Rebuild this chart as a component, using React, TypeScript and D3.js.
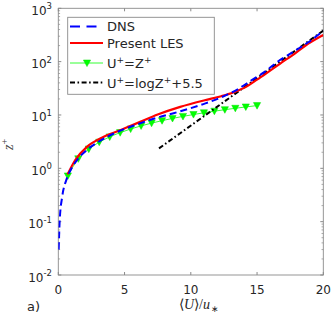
import React from 'react';
import * as d3 from 'd3';

// mean velocity profiles (U+ on x, z+ on y, log)
const dnsU = [0.03, 0.1, 0.3, 0.6, 1.0, 1.5, 2.15, 3.0, 4.2, 5.9, 7.4, 8.7, 9.9, 11.1, 12.4, 13.6, 14.6, 15.6, 16.7, 17.7, 18.9, 20.0];
const dnsZ = [0.03, 0.1, 0.3, 0.6, 1.0, 1.52, 2.2, 3.1, 4.5, 6.6, 8.8, 10.8, 13.2, 16.5, 22, 31, 45, 65, 106, 151, 234, 376];

const lesU = [0.7, 1.28, 2.16, 3.17, 4.67, 6.18, 7.5, 9.2, 11.05, 12.3, 13.3, 14.2, 15.0, 15.8, 16.75, 17.9, 19.0, 20.0];
const lesZ = [0.77, 1.43, 2.53, 3.63, 5.19, 7.43, 10.2, 14.2, 18.9, 22.5, 27, 34, 46, 63, 92, 145, 228, 315];

// U+ = z+ (viscous sublayer), markers
const linU = [0.72, 1.51, 2.3, 3.09, 3.88, 4.67, 5.46, 6.25, 7.04, 7.83, 8.62, 9.41, 10.2, 10.99, 11.78, 12.57, 13.36, 14.15, 15.0];
const linZ = [0.72, 1.51, 2.3, 3.09, 3.88, 4.67, 5.46, 6.25, 7.04, 7.83, 8.62, 9.41, 10.2, 10.99, 11.78, 12.57, 13.36, 14.15, 15.0];

// log law, straight on semilog axes: ends only
const logU = [7.6, 20];
const logZ = [2.36, 382];

const xTicks = [0, 5, 10, 15, 20];
const yExps = [-2, -1, 0, 1, 2, 3];

const W = 332;
const H = 318;
const L = 58.3, R = 323.3, T = 8.3, B = 275;

const axisColor = '#8a8a8a';
const textColor = '#262626';

export default function App() {
  const x = d3.scaleLinear().domain([0, 20]).range([L, R]);
  const y = d3.scaleLog().domain([1e-2, 1e3]).range([B, T]);

  const line = d3.line<[number, number]>()
    .x(d => x(d[0]))
    .y(d => y(d[1]))
    .curve(d3.curveMonotoneX);

  const zip = (a: number[], b: number[]) => a.map((v, i) => [v, b[i]] as [number, number]);

  const minor: number[] = [];
  for (let e = -2; e < 3; e++) {
    for (let m = 2; m < 10; m++) minor.push(m * Math.pow(10, e));
  }

  const tri = (cx: number, cy: number) =>
    `M${cx - 3.6},${cy - 3} L${cx + 3.6},${cy - 3} L${cx},${cy + 3.6} Z`;

  const tk = 3;

  return (
    <svg width={W} height={H} style={{ position: 'absolute', left: 0, top: 0, background: '#fff' }}
      fontFamily="DejaVu Sans, sans-serif">
      <defs>
        <clipPath id="plot">
          <rect x={L} y={T} width={R - L} height={B - T} />
        </clipPath>
      </defs>

      {/* frame */}
      <rect x={L} y={T} width={R - L} height={B - T} fill="#fff" stroke={axisColor} strokeWidth={0.9} />

      {/* x ticks bottom and top */}
      {xTicks.map(t => (
        <g key={'x' + t}>
          <line x1={x(t)} x2={x(t)} y1={B} y2={B - tk} stroke={axisColor} />
          <line x1={x(t)} x2={x(t)} y1={T} y2={T + tk} stroke={axisColor} />
          <text x={x(t)} y={294} textAnchor="middle" fontSize={12} fill={textColor}>{t}</text>
        </g>
      ))}

      {/* y ticks */}
      {yExps.map(e => (
        <g key={'y' + e}>
          <line x1={L} x2={L + tk} y1={y(Math.pow(10, e))} y2={y(Math.pow(10, e))} stroke={axisColor} />
          <line x1={R} x2={R - tk} y1={y(Math.pow(10, e))} y2={y(Math.pow(10, e))} stroke={axisColor} />
          <text x={52} y={y(Math.pow(10, e)) + 6.5} textAnchor="end" fontSize={12} fill={textColor}>
            10<tspan dy={-5.5} fontSize={8.5}>{e}</tspan>
          </text>
        </g>
      ))}
      {minor.map((v, i) => (
        <g key={'m' + i}>
          <line x1={L} x2={L + 1.8} y1={y(v)} y2={y(v)} stroke={axisColor} strokeWidth={0.7} />
          <line x1={R} x2={R - 1.8} y1={y(v)} y2={y(v)} stroke={axisColor} strokeWidth={0.7} />
        </g>
      ))}

      <g clipPath="url(#plot)">
        {/* U+ = z+ */}
        <path d={line(zip(linU, linZ)) || ''} fill="none" stroke="#00ff00" strokeWidth={0.8} />
        {linU.map((u, i) => (
          <path key={'t' + i} d={tri(x(u), y(linZ[i]))} fill="#00ff00" stroke="#00e000" strokeWidth={0.5} />
        ))}
        {/* log law */}
        <path d={line(zip(logU, logZ)) || ''} fill="none" stroke="#000" strokeWidth={2}
          strokeDasharray="5,2.5,1.6,2.5" />
        {/* LES */}
        <path d={line(zip(lesU, lesZ)) || ''} fill="none" stroke="#ff0000" strokeWidth={2.2} />
        {/* DNS */}
        <path d={line(zip(dnsU, dnsZ)) || ''} fill="none" stroke="#0000ff" strokeWidth={2}
          strokeDasharray="7,4" />
      </g>

      {/* legend */}
      <rect x={67.7} y={17.3} width={146.6} height={77} fill="#fff" stroke={axisColor} strokeWidth={0.9} />
      <line x1={70} x2={103} y1={26.5} y2={26.5} stroke="#0000ff" strokeWidth={2} strokeDasharray="10,6.5" />
      <text x={107} y={31} fontSize={13} fill={textColor}>DNS</text>
      <line x1={70} x2={103} y1={43} y2={43} stroke="#ff0000" strokeWidth={2.2} />
      <text x={107} y={47.5} fontSize={13} fill={textColor}>Present LES</text>
      <line x1={70} x2={103} y1={63} y2={63} stroke="#00ff00" strokeWidth={0.8} />
      <path d={tri(87, 63)} fill="#00ff00" stroke="#00e000" strokeWidth={0.5} />
      <text x={107} y={68} fontSize={13} fill={textColor}>
        U<tspan dy={-5} fontSize={9}>+</tspan><tspan dy={5}>=Z</tspan><tspan dy={-5} fontSize={9}>+</tspan>
      </text>
      <line x1={70} x2={103} y1={82.5} y2={82.5} stroke="#000" strokeWidth={2} strokeDasharray="5,2.5,1.6,2.5" />
      <text x={107} y={87.5} fontSize={13} fill={textColor}>
        U<tspan dy={-5} fontSize={9}>+</tspan><tspan dy={5}>=logZ</tspan><tspan dy={-5} fontSize={9}>+</tspan><tspan dy={5}>+5.5</tspan>
      </text>

      {/* axis labels */}
      <text transform="translate(12.5,150) rotate(-90)" fontSize={14} fill="#444"
        fontFamily="Liberation Serif, serif" fontStyle="italic">
        z<tspan dy={-5} fontSize={10} fontStyle="normal">+</tspan>
      </text>
      <text x={210} y={309} textAnchor="end" fontSize={14} fill={textColor} fontFamily="Liberation Serif, serif">
        ⟨<tspan fontStyle="italic">U</tspan>⟩/<tspan fontStyle="italic">u</tspan>
      </text>
      <text x={210.5} y={311.5} fontSize={9} fill={textColor} fontFamily="Liberation Serif, serif">∗</text>
      <text x={27} y={311} fontSize={13} fill={textColor}>a)</text>
    </svg>
  );
}
